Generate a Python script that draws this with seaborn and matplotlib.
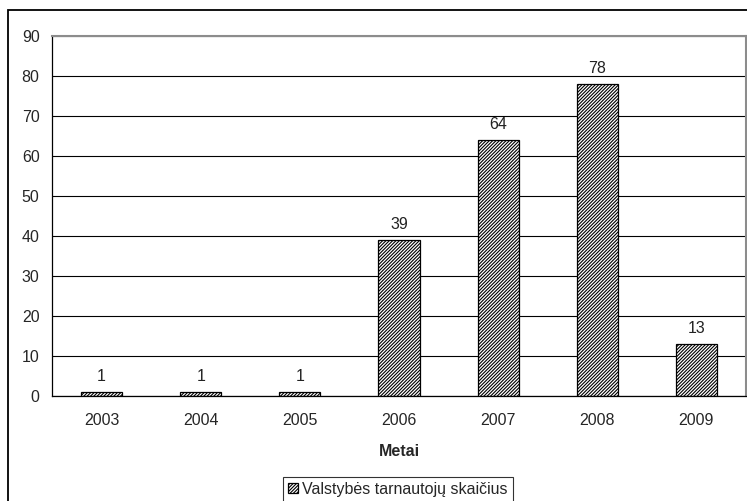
import numpy as np
import pandas as pd
import seaborn as sns
import matplotlib.pyplot as plt
from matplotlib.patches import Rectangle


################################################################################


YEARS = ["2003", "2004", "2005", "2006", "2007", "2008", "2009"]
COUNTS = [1, 1, 1, 39, 64, 78, 13]
X_LABEL = "Metai"
LEGEND_LABEL = "Valstybės tarnautojų skaičius"
Y_TICKS = list(range(0, 100, 10))
FS = 11.5


def plotBars(ax):
  df = pd.DataFrame({"year": YEARS, "count": COUNTS})
  sns.barplot(data=df, x="year", y="count", ax=ax, width=0.415,
              color="white", edgecolor="black", linewidth=0.9,
              hatch="//////////", label=LEGEND_LABEL)
  if ax.get_legend() is not None:
    ax.get_legend().remove()
  for i, v in enumerate(COUNTS):
    ax.text(i, v + 2.0, str(v), ha="center", va="bottom", fontsize=FS, color="#222222")

  ax.set_xlim(-0.5, len(YEARS) - 0.5)
  ax.set_ylim(0, 90)
  ax.set_yticks(Y_TICKS)
  ax.set_xticks(range(len(YEARS)))
  ax.set_xticks(np.arange(-0.5, len(YEARS), 1.0), minor=True)
  ax.tick_params(axis="x", which="major", length=0, pad=12, labelsize=FS)
  ax.tick_params(axis="x", which="minor", length=5, direction="out", width=0.8)
  ax.tick_params(axis="y", length=5, direction="out", width=0.8, labelsize=FS, pad=4)
  ax.set_xlabel(X_LABEL, fontsize=FS, fontweight="bold", labelpad=12)
  ax.set_ylabel("")
  ax.yaxis.grid(True, color="black", linewidth=0.8)
  ax.xaxis.grid(False)
  ax.set_axisbelow(True)
  for side in ["left", "bottom"]:
    ax.spines[side].set_color("black")
    ax.spines[side].set_linewidth(0.9)
  for side in ["top", "right"]:
    ax.spines[side].set_color("#8c8c8c")
    ax.spines[side].set_linewidth(1.5)


def main():
  sns.set_theme(style="white")
  plt.rcParams["font.family"] = ["Liberation Sans", "DejaVu Sans"]
  plt.rcParams["hatch.linewidth"] = 0.8

  fig = plt.figure(figsize=(7.47, 5.01), dpi=100)
  ax = fig.add_axes([52 / 747, 1 - 396 / 501, 694 / 747, 360 / 501])
  plotBars(ax)

  # outer chart frame, cropped by the image edge
  frame = Rectangle((8 / 747, -0.1), 1.2, 1 - 10 / 501 + 0.1, transform=fig.transFigure,
                    fill=False, edgecolor="black", linewidth=1.3, clip_on=False)
  fig.patches.append(frame)

  handles = [ax.patches[0]]
  leg = fig.legend(handles, [LEGEND_LABEL], loc="upper center",
                   bbox_to_anchor=(398 / 747, 1 - 477 / 501), frameon=True,
                   fancybox=False, fontsize=FS, handlelength=0.6, handleheight=0.6,
                   handletextpad=0.3, borderpad=0.3, borderaxespad=0)
  leg.get_frame().set_edgecolor("black")
  leg.get_frame().set_linewidth(0.8)

  fig.savefig("out.png", dpi=100)

main()
